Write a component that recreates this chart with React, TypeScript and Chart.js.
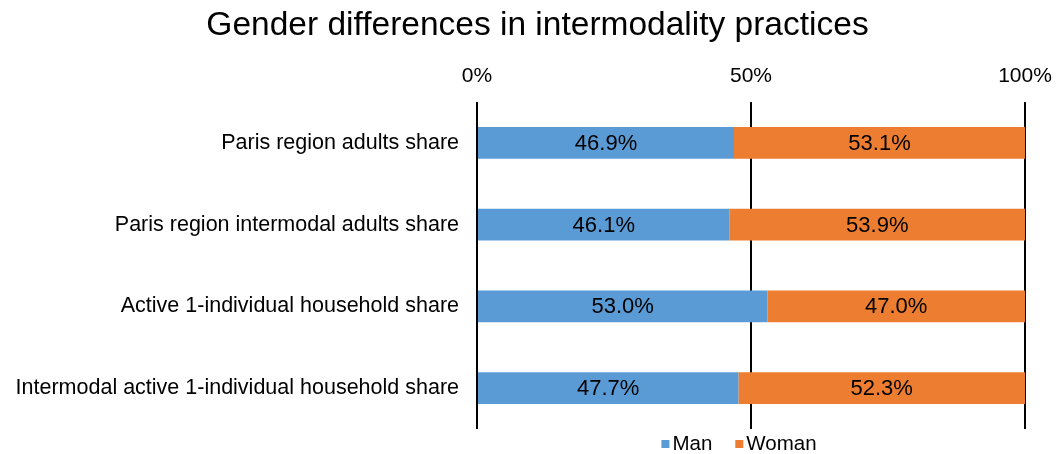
import React, { useEffect, useRef } from "react";
import { Chart, registerables } from "chart.js";

Chart.register(...registerables);

const titleText = "Gender differences in intermodality practices";
const categories = [
  "Paris region adults share",
  "Paris region intermodal adults share",
  "Active 1-individual household share",
  "Intermodal active 1-individual household share",
];
const manValues = [46.9, 46.1, 53.0, 47.7];
const womanValues = [53.1, 53.9, 47.0, 52.3];
const seriesNames = ["Man", "Woman"];
const seriesColors = ["#5B9BD5", "#ED7D31"];
const xTicks = [0, 50, 100];

const FONT = "'Liberation Sans', Arial, sans-serif";

const barLabels = {
  id: "barLabels",
  afterDatasetsDraw(chart: any) {
    const ctx = chart.ctx;
    ctx.save();
    ctx.font = `22px ${FONT}`;
    ctx.fillStyle = "#000";
    ctx.textAlign = "center";
    ctx.textBaseline = "middle";
    chart.data.datasets.forEach((ds: any, i: number) => {
      const meta = chart.getDatasetMeta(i);
      meta.data.forEach((bar: any, j: number) => {
        const x = (bar.x + bar.base) / 2;
        ctx.fillText(ds.data[j].toFixed(1) + "%", x, bar.y + 1);
      });
    });
    ctx.restore();
  },
};

const topTitle = {
  id: "topTitle",
  afterDraw(chart: any) {
    const ctx = chart.ctx;
    ctx.save();
    ctx.font = `33.5px ${FONT}`;
    ctx.fillStyle = "#000";
    ctx.textAlign = "center";
    ctx.textBaseline = "middle";
    ctx.fillText(titleText, chart.width / 2 + 9, 26);
    ctx.restore();
  },
};

const bottomLegend = {
  id: "bottomLegend",
  afterDraw(chart: any) {
    const ctx = chart.ctx;
    const area = chart.chartArea;
    ctx.save();
    ctx.font = `20.5px ${FONT}`;
    ctx.textBaseline = "middle";
    ctx.textAlign = "left";
    const box = 8;
    const gap = 3;
    const itemGap = 23;
    const items = chart.data.datasets.map((ds: any) => ({
      text: ds.label,
      color: ds.backgroundColor,
      w: ctx.measureText(ds.label).width,
    }));
    let total = 0;
    items.forEach((it: any, i: number) => {
      total += box + gap + it.w + (i < items.length - 1 ? itemGap : 0);
    });
    const cx = (area.left + area.right) / 2 - 12;
    const cy = area.bottom + 15;
    let x = cx - total / 2;
    items.forEach((it: any) => {
      ctx.fillStyle = it.color;
      ctx.fillRect(x, cy - box / 2, box, box);
      x += box + gap;
      ctx.fillStyle = "#000";
      ctx.fillText(it.text, x, cy);
      x += it.w + itemGap;
    });
    ctx.restore();
  },
};

export default function App() {
  const ref = useRef<HTMLCanvasElement>(null);
  useEffect(() => {
    const chart = new Chart(ref.current!, {
      type: "bar",
      data: {
        labels: categories,
        datasets: [
          { label: seriesNames[0], data: manValues, backgroundColor: seriesColors[0] },
          { label: seriesNames[1], data: womanValues, backgroundColor: seriesColors[1] },
        ],
      },
      options: {
        animation: false,
        responsive: false,
        indexAxis: "y",
        layout: { padding: { left: 0, right: 0, top: 46, bottom: 25 } },
        datasets: { bar: { categoryPercentage: 1, barPercentage: 0.39 } },
        plugins: {
          title: { display: false },
          legend: { display: false },
          tooltip: { enabled: false },
        },
        scales: {
          x: {
            stacked: true,
            position: "top",
            min: 0,
            max: 100,
            afterBuildTicks: (s: any) => {
              s.ticks = xTicks.map((v) => ({ value: v }));
            },
            afterFit: (s: any) => {
              s.height = 56;
              s.paddingRight = 32;
            },
            ticks: {
              callback: (v: any) => v + "%",
              font: { family: FONT, size: 21 },
              color: "#000",
              padding: 13,
            },
            grid: { color: "#000", lineWidth: 2, drawTicks: false },
            border: { display: false },
          },
          y: {
            stacked: true,
            afterFit: (s: any) => {
              s.width = 477;
              s.paddingTop = 0;
              s.paddingBottom = 0;
            },
            ticks: {
              font: { family: FONT, size: 21.5 },
              color: "#000",
              padding: 18,
            },
            grid: { display: false, drawTicks: false },
            border: { display: false },
          },
        },
      },
      plugins: [barLabels, topTitle, bottomLegend],
    });
    return () => chart.destroy();
  }, []);
  return (
    <div style={{ position: "fixed", left: 0, top: 0, width: 1057, height: 454, background: "#fff" }}>
      <canvas ref={ref} width={1057} height={454} />
    </div>
  );
}
